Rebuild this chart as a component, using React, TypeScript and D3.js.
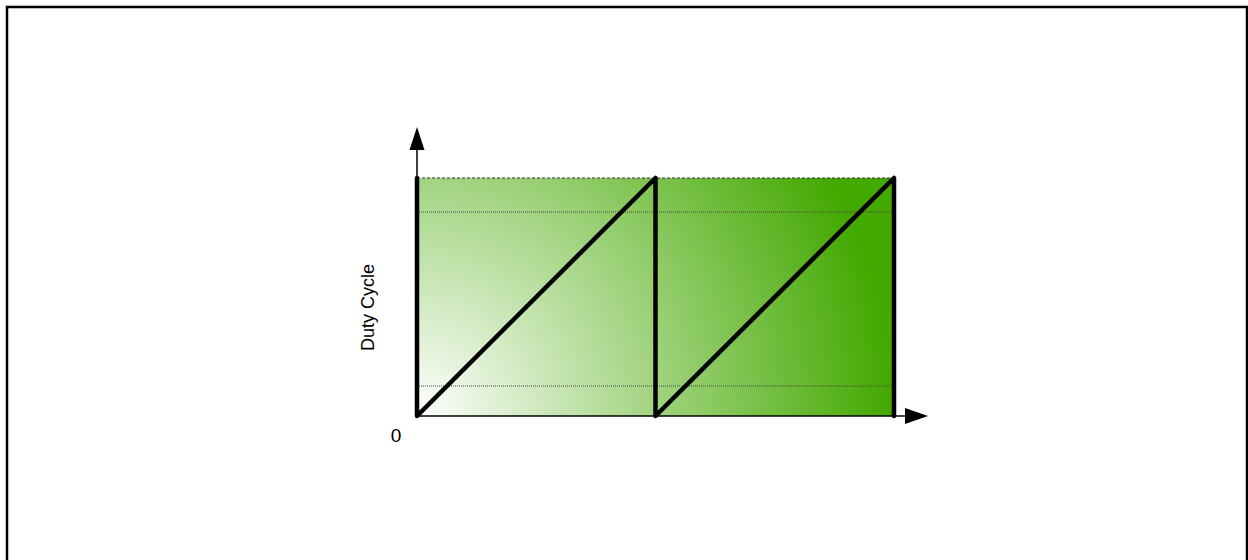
import React from "react";
import * as d3 from "d3";

// Sawtooth (duty cycle) points: [period position, duty fraction]
const sawX = [0, 0, 1, 1, 1, 2, 2];
const sawY = [1, 0, 1, 0, 0, 1, 0];
const periods = [0, 1, 2];
const guideLevels = [0.857, 0.126];
const topLevel = [1];
const yLabel = "Duty Cycle";
const originLabel = "0";

const W = 1248;
const H = 560;

export default function App() {
  const x = d3.scaleLinear().domain([0, 2]).range([417, 894]);
  const y = d3.scaleLinear().domain([0, 1]).range([416, 178]);

  const pts: [number, number][] = sawX.map((v, i) => [x(v), y(sawY[i])]);
  const line = d3.line<[number, number]>().x((d) => d[0]).y((d) => d[1]);

  const x0 = x(periods[0]);
  const x2 = x(periods[2]);
  const yTop = y(topLevel[0]);
  const yBot = y(0);

  return (
    <svg
      width={W}
      height={H}
      style={{ position: "absolute", left: 0, top: 0, display: "block" }}
      fontFamily="Arial, 'Liberation Sans', sans-serif"
    >
      <defs>
        <radialGradient
          id="g"
          gradientUnits="userSpaceOnUse"
          cx={x0}
          cy={yBot}
          r={x2 - x0}
        >
          <stop offset="0" stopColor="#ffffff" />
          <stop offset="1" stopColor="#43a800" />
        </radialGradient>
      </defs>
      <rect x={7} y={7} width={1240} height={H + 10} fill="none" stroke="#000" strokeWidth={2.5} />

      <rect x={x0} y={yTop} width={x2 - x0} height={yBot - yTop} fill="url(#g)" />

      {/* top dashed line */}
      <line x1={x0} x2={x2 + 3} y1={yTop} y2={yTop} stroke="#333" strokeWidth={1} strokeDasharray="3,2" />
      {guideLevels.map((v, i) => (
        <line key={i} x1={x0} x2={x2 + 3} y1={y(v)} y2={y(v)} stroke="#444" strokeWidth={1} strokeDasharray="1,1" />
      ))}

      {/* axes */}
      <line x1={x0} x2={x0} y1={yBot} y2={148} stroke="#000" strokeWidth={1.5} />
      <path d={`M${x0},127 L${x0 - 7.5},150 L${x0 + 7.5},150 Z`} fill="#000" />
      <line x1={x0} x2={906} y1={yBot} y2={yBot} stroke="#000" strokeWidth={1.5} />
      <path d={`M928,${yBot} L905,${yBot - 8} L905,${yBot + 8} Z`} fill="#000" />

      {/* sawtooth */}
      <path d={line(pts) || ""} fill="none" stroke="#000" strokeWidth={4.5} strokeLinejoin="round" strokeLinecap="round" />

      <text x={396} y={442} fontSize={19} textAnchor="middle" fill="#000">
        {originLabel}
      </text>
      <text
        transform={`translate(374,307.5) rotate(-90)`}
        fontSize={18}
        textAnchor="middle"
        fill="#000"
      >
        {yLabel}
      </text>
    </svg>
  );
}
